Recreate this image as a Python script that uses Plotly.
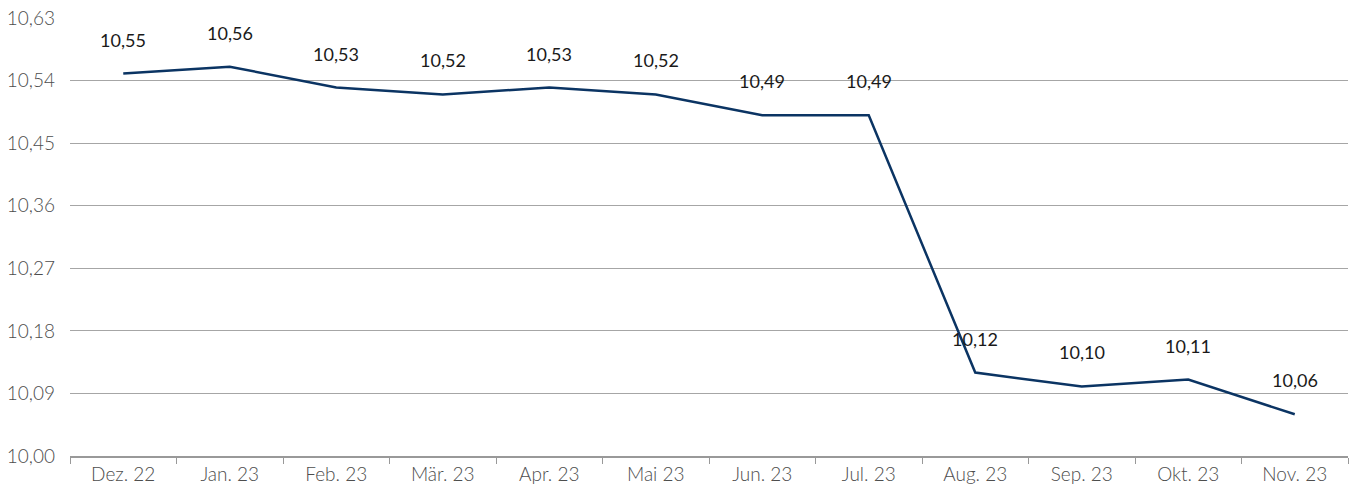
import plotly.graph_objects as go

categories = ["Dez. 22", "Jan. 23", "Feb. 23", "Mär. 23", "Apr. 23", "Mai 23",
              "Jun. 23", "Jul. 23", "Aug. 23", "Sep. 23", "Okt. 23", "Nov. 23"]
values = [10.55, 10.56, 10.53, 10.52, 10.53, 10.52, 10.49, 10.49, 10.12, 10.10, 10.11, 10.06]
y_ticks = [10.00, 10.09, 10.18, 10.27, 10.36, 10.45, 10.54, 10.63]
y_tick_labels = [f"{v:.2f}".replace(".", ",") for v in y_ticks]
value_labels = [f"{v:.2f}".replace(".", ",") for v in values]

FONT = "Lato, 'Open Sans', sans-serif"

fig = go.Figure()
fig.add_trace(go.Scatter(
    x=categories, y=values, mode="lines",
    line=dict(color="#0b3463", width=2.5),
    hoverinfo="skip", showlegend=False,
))

for c, v, t in zip(categories, values, value_labels):
    fig.add_annotation(x=c, y=v, text=t, showarrow=False, yshift=34,
                       font=dict(family=FONT, size=18, color="#1a1a1a"))

fig.update_layout(
    width=1356, height=491,
    margin=dict(l=70, r=8, t=18, b=35),
    paper_bgcolor="white", plot_bgcolor="white",
    font=dict(family=FONT, size=19, color="#4d4d4d"),
)
fig.update_xaxes(
    type="category", range=[-0.5, len(categories) - 0.5],
    tickson="boundaries", ticks="outside", ticklen=6,
    tickcolor="#999999", showline=True, linecolor="#999999", linewidth=1.5,
    showgrid=False, tickfont=dict(size=19, color="#4d4d4d", weight=300),
    automargin=False,
)
fig.update_yaxes(
    range=[10.0, 10.63], tickvals=y_ticks, ticktext=y_tick_labels,
    showgrid=True, gridcolor="#a6a6a6", gridwidth=1.2, zeroline=False,
    showline=False, ticks="", ticklabelstandoff=14,
    tickfont=dict(size=19, color="#4d4d4d", weight=300),
    automargin=False,
)

fig.write_html("out.html", config={"displayModeBar": False},
               post_script="document.body.style.margin='0';document.body.style.overflow='hidden';")
